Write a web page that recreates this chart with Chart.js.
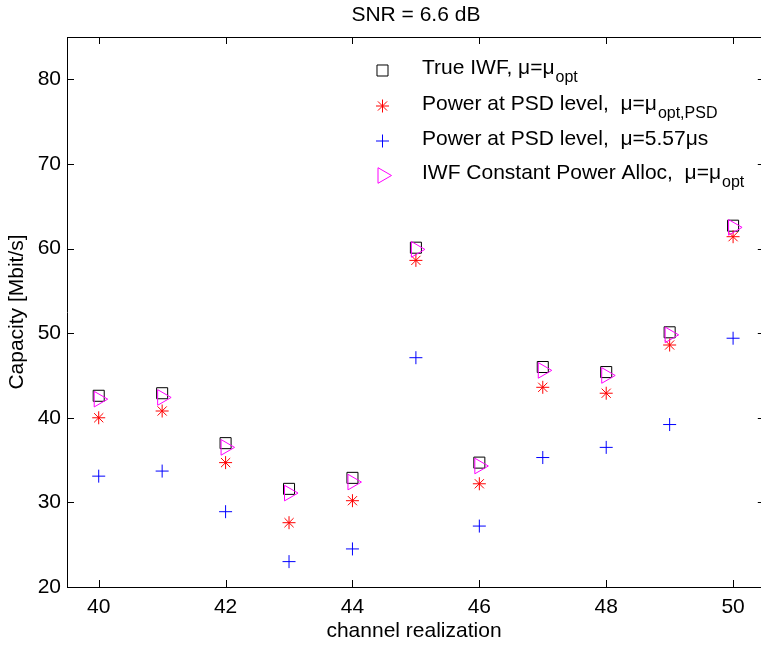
<!DOCTYPE html>
<html><head><meta charset="utf-8">
<script src="https://cdn.jsdelivr.net/npm/chart.js@4/dist/chart.umd.min.js"></script>
<style>html,body{margin:0;padding:0;background:#fff;overflow:hidden}canvas{display:block}</style>
</head><body>
<canvas id="c" width="761" height="645" style="width:761px;height:645px"></canvas>
<script>
const channels = [40,41,42,43,44,45,46,47,48,49,50];
const trueIWF  = [42.6,42.9,37.0,31.6,32.9,60.1,34.7,46.0,45.4,50.1,62.7];
const psdOpt   = [40.0,40.8,34.7,27.6,30.2,58.6,32.2,43.6,42.9,48.6,61.4];
const psdFixed = [33.1,33.7,28.9,23.0,24.5,47.1,27.2,35.3,36.5,39.2,49.4];
const iwfConst = [42.2,42.4,36.5,31.1,32.4,59.9,34.3,45.6,45.0,49.8,62.5];
const xTicks = [40,42,44,46,48,50];
const yTicks = [20,30,40,50,60,70,80];
const titleText = 'SNR = 6.6 dB';
const xLabel = 'channel realization';
const yLabel = 'Capacity [Mbit/s]';
const legendMain = ['True IWF, μ=μ', 'Power at PSD level,  μ=μ', 'Power at PSD level,  μ=5.57μs', 'IWF Constant Power Alloc,  μ=μ'];
const legendSub  = ['opt', 'opt,PSD', '', 'opt'];

const FONT = "'Liberation Sans', Arial, Helvetica, sans-serif";
const pts = v => channels.map((c,i)=>({x:c, y:v[i]}));

const styles = [
  {pointStyle:'rect', radius:7.8, rotation:0, color:'#000000'},
  {pointStyle:'star', radius:6.5, rotation:0, color:'#ff0000'},
  {pointStyle:'cross', radius:6.5, rotation:0, color:'#0000ff'},
  {pointStyle:'triangle', radius:9, rotation:90, color:'#ff00ff'}
];
const series = [trueIWF, psdOpt, psdFixed, iwfConst];

const datasets = series.map((s,i)=>({
  label: legendMain[i] + legendSub[i],
  data: pts(s),
  showLine: false,
  pointStyle: styles[i].pointStyle,
  pointRadius: styles[i].radius,
  pointHoverRadius: styles[i].radius,
  pointRotation: styles[i].rotation,
  pointBorderColor: styles[i].color,
  pointBackgroundColor: 'rgba(0,0,0,0)',
  pointBorderWidth: 1,
  order: 4 - i
}));

function drawMarker(ctx, st, x, y){
  ctx.save();
  ctx.strokeStyle = st.color; ctx.fillStyle = 'rgba(0,0,0,0)'; ctx.lineWidth = 1;
  if (Chart.helpers && Chart.helpers.drawPoint) {
    Chart.helpers.drawPoint(ctx, {pointStyle: st.pointStyle, radius: st.radius, rotation: st.rotation, borderWidth: 1}, x, y);
  }
  ctx.restore();
}

const decor = {
  id: 'decor',
  afterDraw(chart){
    const ctx = chart.ctx, a = chart.chartArea;
    const xs = chart.scales.x, ys = chart.scales.y;
    const W = chart.width;
    ctx.save();
    ctx.strokeStyle = '#000'; ctx.lineWidth = 1;
    ctx.beginPath();
    ctx.moveTo(a.left, a.top + 0.5); ctx.lineTo(W, a.top + 0.5);
    ctx.moveTo(a.left, a.bottom + 0.5); ctx.lineTo(W, a.bottom + 0.5);
    ctx.moveTo(a.left + 0.5, a.top); ctx.lineTo(a.left + 0.5, a.bottom + 1);
    ctx.stroke();
    const L = 7;
    const axisRight = xs.getPixelForValue(50.5);
    ctx.beginPath();
    xTicks.forEach(v=>{
      const px = Math.round(xs.getPixelForValue(v)) + 0.5;
      ctx.moveTo(px, a.bottom); ctx.lineTo(px, a.bottom - L);
      ctx.moveTo(px, a.top); ctx.lineTo(px, a.top + L);
    });
    yTicks.forEach(v=>{
      const py = Math.round(ys.getPixelForValue(v)) + 0.5;
      ctx.moveTo(a.left, py); ctx.lineTo(a.left + L, py);
      ctx.moveTo(axisRight, py); ctx.lineTo(axisRight - L, py);
    });
    ctx.stroke();
    ctx.fillStyle = '#000';
    ctx.font = '21px ' + FONT;
    ctx.textAlign = 'center'; ctx.textBaseline = 'alphabetic';
    ctx.fillText(titleText, (a.left + axisRight) / 2, 21);
    const mx = 382.5, tx = 422, rows = [74, 109.5, 144.5, 179];
    rows.forEach((by, i)=>{
      drawMarker(ctx, styles[i], mx, by - 3.5);
      ctx.fillStyle = '#000';
      ctx.textAlign = 'left';
      ctx.font = '21px ' + FONT;
      ctx.fillText(legendMain[i], tx, by);
      const w = ctx.measureText(legendMain[i]).width;
      if (legendSub[i]) {
        ctx.font = '16px ' + FONT;
        ctx.fillText(legendSub[i], tx + w + 1, by + 8);
      }
    });
    ctx.restore();
  }
};

new Chart(document.getElementById('c'), {
  type: 'scatter',
  data: { datasets },
  options: {
    responsive: false,
    animation: false,
    devicePixelRatio: 1,
    layout: { autoPadding: false, padding: { top: 37, right: 0, left: 0, bottom: 0 } },
    plugins: { legend: { display: false }, tooltip: { enabled: false }, title: { display: false } },
    scales: {
      x: {
        type: 'linear', min: 39.5, max: 50.44,
        afterFit: s => { s.height = 58; s.paddingLeft = 0; s.paddingRight = 0; },
        afterBuildTicks: s => { s.ticks = xTicks.map(v => ({value: v})); },
        grid: { display: false, drawTicks: false },
        border: { display: false },
        ticks: { color: '#000', font: { family: FONT, size: 21 }, padding: 8, autoSkip: false, maxRotation: 0 },
        title: { display: true, text: xLabel, color: '#000', font: { family: FONT, size: 21 }, padding: { top: 0, bottom: 1 } }
      },
      y: {
        type: 'linear', min: 20, max: 85,
        afterFit: s => { s.width = 67; s.paddingTop = 0; s.paddingBottom = 0; },
        afterBuildTicks: s => { s.ticks = yTicks.map(v => ({value: v})); },
        grid: { display: false, drawTicks: false },
        border: { display: false },
        ticks: { color: '#000', font: { family: FONT, size: 21 }, padding: 6, autoSkip: false },
        title: { display: true, text: yLabel, color: '#000', font: { family: FONT, size: 21 }, padding: { top: 5, bottom: 0 } }
      }
    }
  },
  plugins: [decor]
});
</script>
</body></html>
